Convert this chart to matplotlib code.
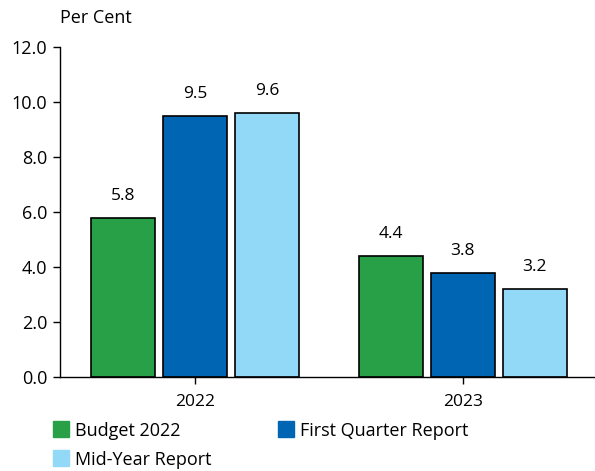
import matplotlib
matplotlib.use("Agg")
import matplotlib.pyplot as plt
from matplotlib.lines import Line2D
import numpy as np

categories = ["2022", "2023"]
series_names = ["Budget 2022", "First Quarter Report", "Mid-Year Report"]
budget_2022 = [5.8, 4.4]
first_quarter = [9.5, 3.8]
mid_year = [9.6, 3.2]
y_ticks = [0, 2, 4, 6, 8, 10, 12]

colors = ["#27a048", "#0066b3", "#92d9f7"]
series = [budget_2022, first_quarter, mid_year]

plt.rcParams['font.family'] = ['Open Sans', 'DejaVu Sans']
plt.rcParams['font.size'] = 12

fig = plt.figure(figsize=(5.95, 4.71), dpi=100)
ax = fig.add_axes([0.1008, 0.1996, 0.904, 0.7004])

x = np.arange(len(categories))
width = 0.239
step = 0.269
for i, (vals, c) in enumerate(zip(series, colors)):
    pos = x + (i - 1) * step
    ax.bar(pos, vals, width, color=c, edgecolor="black", linewidth=1.2, zorder=2)
    for p, v in zip(pos, vals):
        ax.annotate(f"{v:.1f}", (p, v), xytext=(0, 10), textcoords="offset points",
                    ha="center", va="bottom", fontsize=12.5)

ax.set_xlim(-0.505, 1.505)
ax.set_ylim(0, 12)
ax.set_yticks(y_ticks)
ax.set_yticklabels([f"{t:.1f}" for t in y_ticks], fontsize=13)
ax.set_xticks(x)
ax.set_xticklabels(categories, fontsize=12.5)
ax.tick_params(axis='y', length=5, width=1, pad=4)
ax.tick_params(axis='x', length=5, width=1, pad=7)
for s in ["top", "right"]:
    ax.spines[s].set_visible(False)
ax.spines["left"].set_linewidth(1)
ax.spines["bottom"].set_linewidth(1)

fig.text(0.101, 0.962, "Per Cent", fontsize=13, ha="left", va="center")

handles = [Line2D([0], [0], marker="s", linestyle="none", markersize=11,
                  markerfacecolor=c, markeredgecolor=c) for c in colors]
order = [0, 2, 1]
fig.legend([handles[i] for i in order], [series_names[i] for i in order],
           loc="upper left", bbox_to_anchor=(0.075, 0.12),
           ncol=2, frameon=False, fontsize=13, handletextpad=0.3,
           columnspacing=3.6, labelspacing=0.6, borderaxespad=0, handlelength=1.0)

fig.savefig("out.png", dpi=100)
